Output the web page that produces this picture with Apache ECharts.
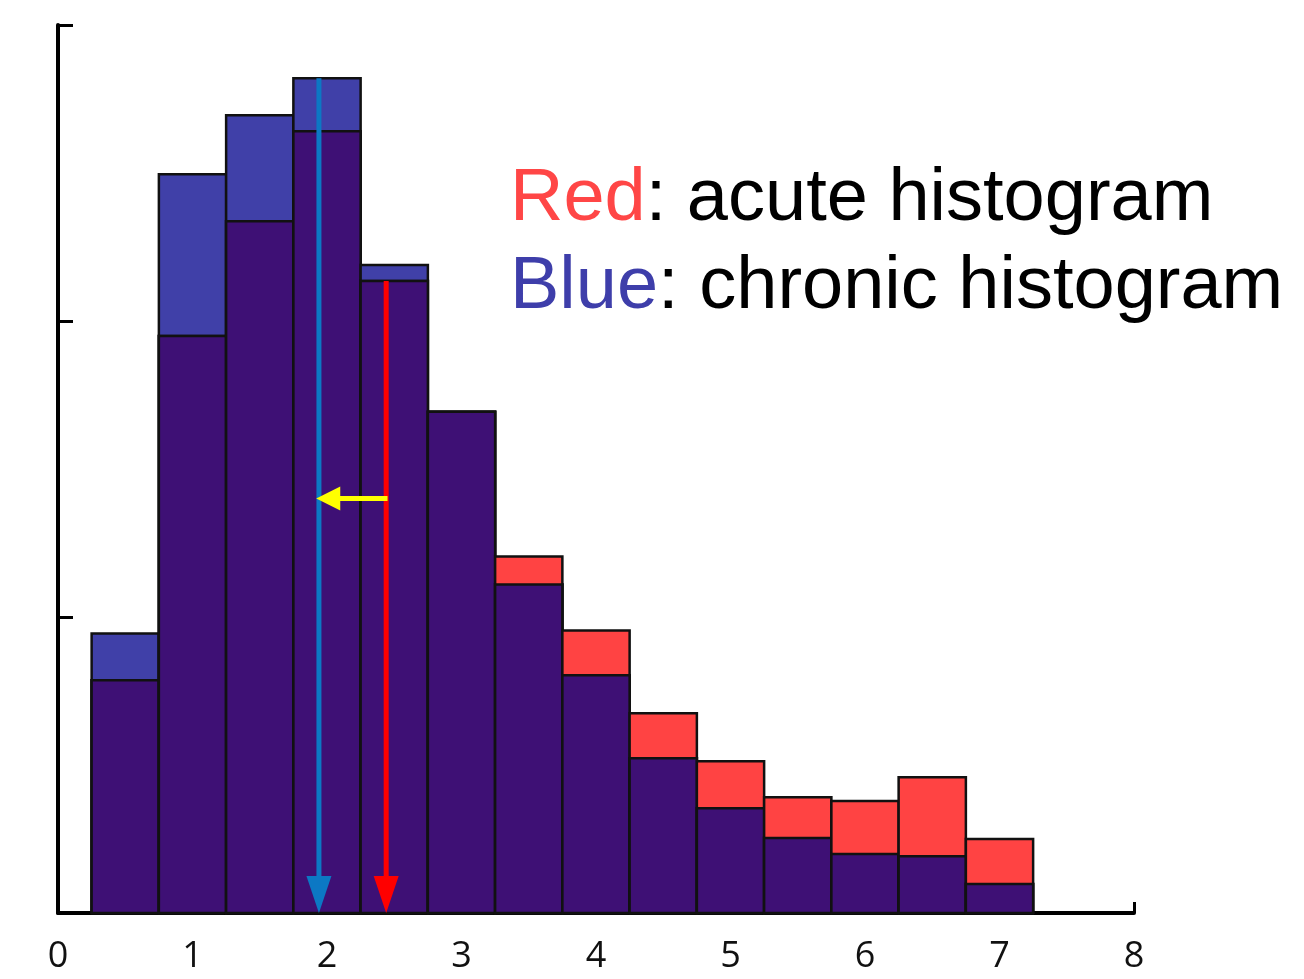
<!DOCTYPE html>
<html>
<head>
<meta charset="utf-8">
<script src="https://cdn.jsdelivr.net/npm/echarts@6/dist/echarts.min.js"></script>
<style>
html,body{margin:0;padding:0;background:#fff;}
#chart{width:1304px;height:979px;}
</style>
</head>
<body>
<div id="chart"></div>
<script>
// ---- data ----
const binCenters = [0.5, 1.0, 1.5, 2.0, 2.5, 3.0, 3.5, 4.0, 4.5, 5.0, 5.5, 6.0, 6.5, 7.0];
const binWidth = 0.5;
const chronicValues = [0.944, 2.496, 2.695, 2.820, 2.189, 1.693, 1.110, 0.803, 0.523, 0.354, 0.253, 0.199, 0.192, 0.098];
const acuteValues   = [0.786, 1.949, 2.337, 2.641, 2.135, 1.693, 1.204, 0.954, 0.675, 0.513, 0.391, 0.378, 0.459, 0.250];
const xTicks = [0, 1, 2, 3, 4, 5, 6, 7, 8];
// arrows: chronic mean, acute mean, shift
const arrowFrom = [[1.94, 2.82], [2.44, 2.135], [2.45, 1.40]];
const arrowTo   = [[1.94, 0],    [2.44, 0],     [1.92, 1.40]];
const arrowColors = ['#0c78c4', '#ff0000', '#ffff00'];
const legendLines = ['{r|Red}: acute histogram', '{b|Blue}: chronic histogram'];

const histData = binCenters.map((c, i) => [c, chronicValues[i], acuteValues[i]]);
const arrowData = arrowFrom.map((f, i) => [f[0], f[1], arrowTo[i][0], arrowTo[i][1], i]);

const chart = echarts.init(document.getElementById('chart'));
const option = {
  animation: false,
  backgroundColor: '#fff',
  title: {
    text: legendLines.join('\n'),
    left: 510,
    top: 156,
    padding: 0,
    textStyle: {
      fontFamily: 'Liberation Sans',
      fontSize: 74,
      fontWeight: 'normal',
      color: '#000',
      lineHeight: 88,
      rich: {
        r: {color: '#ff4646', fontFamily: 'Liberation Sans', fontSize: 74, lineHeight: 88},
        b: {color: '#3e3eaa', fontFamily: 'Liberation Sans', fontSize: 74, lineHeight: 88}
      }
    }
  },
  grid: {left: 58, right: 170, top: 25, bottom: 66, outerBoundsMode: 'none'},
  xAxis: {
    type: 'value', min: 0, max: 8, interval: 1,
    splitLine: {show: false},
    axisLine: {show: true, lineStyle: {color: '#000', width: 4}},
    axisTick: {show: true, inside: true, length: 11, lineStyle: {color: '#000', width: 3}},
    axisLabel: {
      fontFamily: 'Open Sans', fontSize: 36, color: '#111', margin: 26,
      formatter: v => xTicks.includes(v) ? String(v) : ''
    }
  },
  yAxis: {
    type: 'value', min: 0, max: 3, interval: 1,
    splitLine: {show: false},
    axisLine: {show: true, lineStyle: {color: '#000', width: 4}},
    axisTick: {show: true, inside: true, length: 15, lineStyle: {color: '#000', width: 3}},
    axisLabel: {show: false}
  },
  series: [
    {
      type: 'custom',
      z: 2,
      data: histData,
      encode: {x: 0, y: [1, 2]},
      renderItem: function (params, api) {
        const c = api.value(0), ch = api.value(1), ac = api.value(2);
        const lo = Math.min(ch, ac);
        function rect(v, fill) {
          const p0 = api.coord([c - binWidth / 2, v]);
          const p1 = api.coord([c + binWidth / 2, 0]);
          return {
            type: 'rect',
            shape: {x: p0[0], y: p0[1], width: p1[0] - p0[0], height: p1[1] - p0[1]},
            style: {fill: fill, stroke: '#111', lineWidth: 2.5}
          };
        }
        return {
          type: 'group',
          children: [rect(ch, '#4040a8'), rect(ac, '#ff4343'), rect(lo, '#3e1075')]
        };
      }
    },
    {
      type: 'custom',
      z: 5,
      data: arrowData,
      encode: {x: [0, 2], y: [1, 3]},
      renderItem: function (params, api) {
        const a = api.coord([api.value(0), api.value(1)]);
        const b = api.coord([api.value(2), api.value(3)]);
        const col = arrowColors[api.value(4)];
        const horiz = Math.abs(b[1] - a[1]) < 1;
        const headLen = horiz ? 24 : 37;
        const headHalf = horiz ? 12 : 12.5;
        const dx = b[0] - a[0], dy = b[1] - a[1];
        const L = Math.sqrt(dx * dx + dy * dy);
        const ux = dx / L, uy = dy / L;
        const bx = b[0] - ux * headLen, by = b[1] - uy * headLen;
        const px = -uy, py = ux;
        return {
          type: 'group',
          children: [
            {type: 'line', shape: {x1: a[0], y1: a[1], x2: bx + ux * 2, y2: by + uy * 2},
             style: {stroke: col, lineWidth: 5}},
            {type: 'polygon', shape: {points: [[b[0], b[1]], [bx + px * headHalf, by + py * headHalf], [bx - px * headHalf, by - py * headHalf]]},
             style: {fill: col}}
          ]
        };
      }
    }
  ]
};
chart.setOption(option);
</script>
</body>
</html>
